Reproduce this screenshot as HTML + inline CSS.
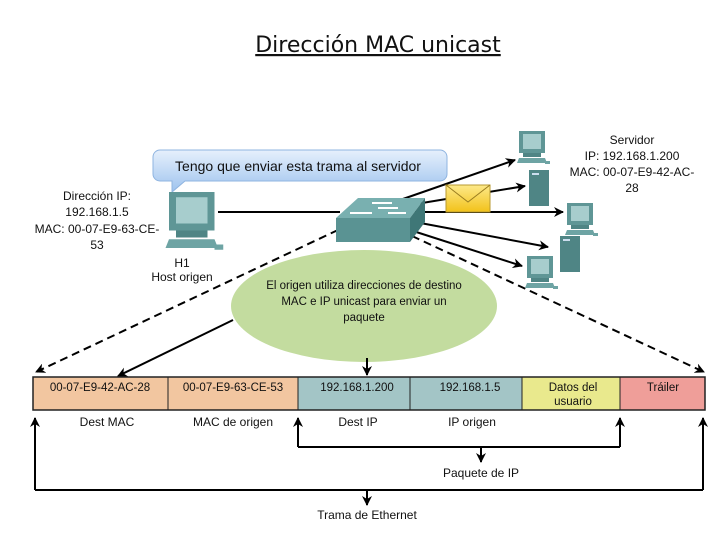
<!DOCTYPE html>
<html><head><meta charset="utf-8"><style>
html,body{margin:0;padding:0;background:#fff;}
svg{display:block;}
text{font-family:"Liberation Sans",sans-serif;fill:#111;}
</style></head><body>
<svg width="720" height="540" viewBox="0 0 720 540" xmlns="http://www.w3.org/2000/svg">
<defs>
<marker id="ah" markerWidth="10" markerHeight="10" refX="9" refY="5" orient="auto" markerUnits="userSpaceOnUse"><path d="M0,0 L10,5 L0,10 L3,5 z" fill="#000"/></marker>
<linearGradient id="bub" x1="0" y1="0" x2="0" y2="1"><stop offset="0" stop-color="#e6f0fc"/><stop offset="1" stop-color="#9ec3ee"/></linearGradient>
<linearGradient id="env" x1="0" y1="0" x2="0" y2="1"><stop offset="0" stop-color="#fde98a"/><stop offset="1" stop-color="#f2c21a"/></linearGradient>
<g id="pc">
<rect x="4" y="0" width="26" height="22" fill="#5f9696"/><rect x="8" y="3" width="18" height="15" fill="#a7cdcd"/>
<rect x="8" y="22" width="18" height="4" fill="#4f8585"/>
<polygon points="2,32 32,32 30,27 4,27" fill="#6ea4a4"/><rect x="30" y="30" width="5" height="3" fill="#6ea4a4"/>
</g>
<g id="tower"><rect x="0" y="0" width="20" height="36" fill="#4f8585"/><rect x="3" y="3" width="7" height="2" fill="#cde"/></g>
</defs>

<text x="378" y="52" text-anchor="middle" font-size="22" style="font-family:'DejaVu Sans',sans-serif;text-decoration:underline">Dirección MAC unicast</text>

<!-- bubble -->
<path d="M160,150 H440 a7,7 0 0 1 7,7 V174 a7,7 0 0 1 -7,7 H185 L172,192 L172,181 H160 a7,7 0 0 1 -7,-7 V157 a7,7 0 0 1 7,-7 z" fill="url(#bub)" stroke="#8fb4e0"/>
<text x="298" y="171" text-anchor="middle" font-size="14">Tengo que enviar esta trama al servidor</text>

<!-- left labels -->
<g font-size="12" text-anchor="middle">
<text x="97" y="200">Dirección IP:</text>
<text x="97" y="216">192.168.1.5</text>
<text x="97" y="233">MAC: 00-07-E9-63-CE-</text>
<text x="97" y="249">53</text>
<text x="182" y="267">H1</text>
<text x="182" y="281">Host origen</text>
<text x="632" y="144">Servidor</text>
<text x="632" y="160">IP: 192.168.1.200</text>
<text x="632" y="176">MAC: 00-07-E9-42-AC-</text>
<text x="632" y="192">28</text>
</g>

<!-- green ellipse -->
<ellipse cx="364" cy="306" rx="133" ry="56" fill="#c3dc9f"/>
<g font-size="11.5" text-anchor="middle">
<text x="364" y="289">El origen utiliza direcciones de destino</text>
<text x="364" y="305">MAC e IP unicast para enviar un</text>
<text x="364" y="321">paquete</text>
</g>

<!-- connectors -->
<line x1="218" y1="212" x2="340" y2="212" stroke="#000" stroke-width="2"/>
<g stroke="#000" stroke-width="2" fill="none" marker-end="url(#ah)">
<line x1="400" y1="200" x2="515" y2="160"/>
<line x1="410" y1="205" x2="525" y2="186"/>
<line x1="415" y1="212" x2="563" y2="212"/>
<line x1="415" y1="222" x2="548" y2="247"/>
<line x1="410" y1="230" x2="522" y2="266"/>
<line x1="233" y1="320" x2="118" y2="376"/>
<line x1="367" y1="358" x2="367" y2="375"/>
</g>
<g stroke="#000" stroke-width="2" fill="none" stroke-dasharray="8,5" marker-end="url(#ah)">
<line x1="338" y1="230" x2="36" y2="372"/>
<line x1="412" y1="236" x2="704" y2="372"/>
</g>

<!-- envelope -->
<rect x="446" y="185" width="44" height="27" fill="url(#env)" stroke="#b89a30"/>
<polyline points="446,185 468,202 490,185" fill="none" stroke="#9a7d20"/>

<!-- switch -->
<polygon points="336,218 358,198 425,198 410,218" fill="#79b0b0"/>
<rect x="336" y="218" width="74" height="24" fill="#5a9393"/>
<polygon points="410,218 425,198 425,222 410,242" fill="#3f7777"/>
<g stroke="#fff" stroke-width="2"><line x1="372" y1="203" x2="392" y2="203"/><line x1="378" y1="208" x2="398" y2="208"/><line x1="350" y1="213" x2="372" y2="213"/><line x1="388" y1="213" x2="406" y2="213"/></g>

<!-- devices -->
<g transform="translate(162,192) scale(1.75)"><use href="#pc"/></g>
<use href="#pc" x="515" y="131"/>
<use href="#tower" x="529" y="170"/>
<use href="#pc" x="563" y="203"/>
<use href="#tower" x="560" y="236"/>
<use href="#pc" x="523" y="256"/>

<!-- frame -->
<rect x="33" y="377" width="135" height="33" fill="#f2c6a0"/>
<rect x="168" y="377" width="130" height="33" fill="#f2c6a0"/>
<rect x="298" y="377" width="112" height="33" fill="#a3c5c6"/>
<rect x="410" y="377" width="112" height="33" fill="#a3c5c6"/>
<rect x="522" y="377" width="98" height="33" fill="#e9e98d"/>
<rect x="620" y="377" width="85" height="33" fill="#ef9e99"/>
<rect x="33" y="377" width="672" height="33" fill="none" stroke="#222" stroke-width="1.5"/>
<g stroke="#222" stroke-width="1"><line x1="168" y1="377" x2="168" y2="410"/><line x1="298" y1="377" x2="298" y2="410"/><line x1="410" y1="377" x2="410" y2="410"/><line x1="522" y1="377" x2="522" y2="410"/><line x1="620" y1="377" x2="620" y2="410"/></g>
<g font-size="11.5" text-anchor="middle">
<text x="100" y="391">00-07-E9-42-AC-28</text>
<text x="233" y="391">00-07-E9-63-CE-53</text>
<text x="357" y="391">192.168.1.200</text>
<text x="470" y="391">192.168.1.5</text>
<text x="573" y="391">Datos del</text>
<text x="573" y="405">usuario</text>
<text x="663" y="391">Tráiler</text>
<text x="107" y="426" font-size="12">Dest MAC</text>
<text x="233" y="426" font-size="12">MAC de origen</text>
<text x="358" y="426" font-size="12">Dest IP</text>
<text x="472" y="426" font-size="12">IP origen</text>
<text x="481" y="477" font-size="12">Paquete de IP</text>
<text x="367" y="519" font-size="12">Trama de Ethernet</text>
</g>

<!-- brackets -->
<g stroke="#000" stroke-width="2" fill="none">
<polyline points="298,447 298,420"/><polyline points="620,447 620,420"/>
<line x1="298" y1="447" x2="620" y2="447"/>
<polyline points="35,490 35,420"/><polyline points="703,490 703,420"/>
<line x1="35" y1="490" x2="703" y2="490"/>
</g>
<g stroke="#000" stroke-width="2" marker-end="url(#ah)">
<line x1="298" y1="430" x2="298" y2="418"/>
<line x1="620" y1="430" x2="620" y2="418"/>
<line x1="35" y1="430" x2="35" y2="418"/>
<line x1="703" y1="430" x2="703" y2="418"/>
<line x1="481" y1="447" x2="481" y2="462"/>
<line x1="367" y1="490" x2="367" y2="505"/>
</g>
</svg>
</body></html>
